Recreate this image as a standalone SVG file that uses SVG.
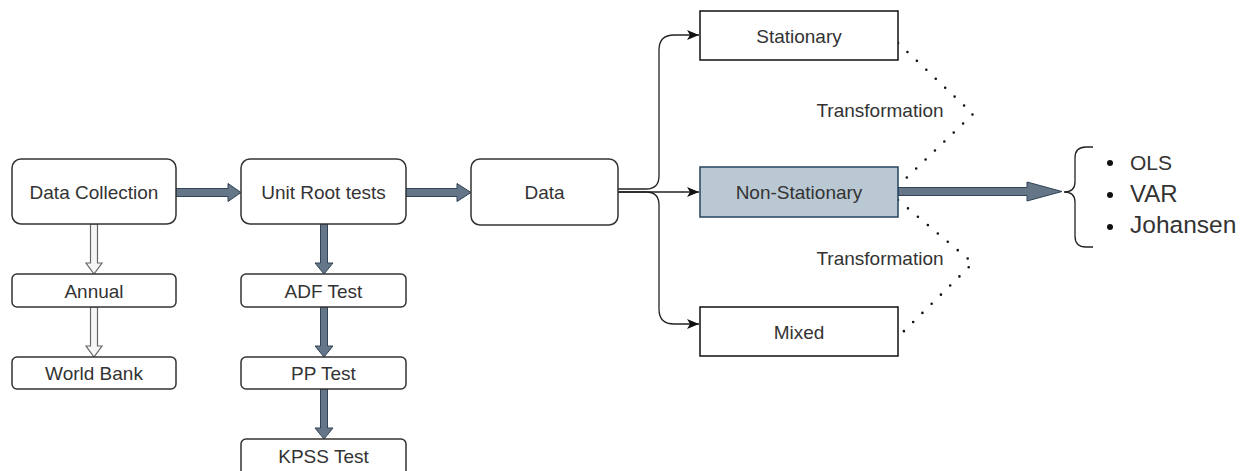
<svg xmlns="http://www.w3.org/2000/svg" width="1254" height="471" viewBox="0 0 1254 471">
<style>
text{font-family:"Liberation Sans",Arial,sans-serif;fill:#333333;font-size:19px;text-anchor:middle}
.rbox{fill:#ffffff;stroke:#333333;stroke-width:1.5}
.sbox{fill:#ffffff;stroke:#111111;stroke-width:1.5}
.flex{fill:#647687;stroke:#314354;stroke-width:1}
.hollow{fill:#f5f5f5;stroke:#666666;stroke-width:1.2}
.thin{fill:none;stroke:#222222;stroke-width:1.3}
.dot{fill:none;stroke:#111111;stroke-width:2.6;stroke-linecap:round;stroke-dasharray:0 13}
.bl{text-anchor:start}
</style>
<defs>
<marker id="ah" markerUnits="userSpaceOnUse" markerWidth="13" markerHeight="10" refX="12" refY="5" orient="auto" viewBox="0 0 13 10">
<path d="M0,0 L12,5 L0,10 L3,5 Z" fill="#111111"/>
</marker>
</defs>
<g id="connectors">
<polygon class="flex" points="176,188.5 228,188.5 228,183.5 241,192.5 228,201.5 228,196.5 176,196.5"/>
<polygon class="flex" points="406,188.5 457,188.5 457,183.5 471,192.5 457,201.5 457,196.5 406,196.5"/>
<polygon class="flex" points="898,187.5 1027,187.5 1027,182 1062,191.5 1027,201 1027,195.5 898,195.5"/>
<polygon class="flex" points="320.5,224 327.5,224 327.5,263 333,263 324,274 315,263 320.5,263"/>
<polygon class="flex" points="320.5,307 327.5,307 327.5,346 333,346 324,357 315,346 320.5,346"/>
<polygon class="flex" points="320.5,389 327.5,389 327.5,428 333,428 324,439 315,428 320.5,428"/>
<polygon class="hollow" points="90.5,224 97.5,224 97.5,263 102,263 94,274 86,263 90.5,263"/>
<polygon class="hollow" points="90.5,307 97.5,307 97.5,346 102,346 94,357 86,346 90.5,346"/>
<path class="thin" d="M618,189 H646 Q659,189 659,176 V50 Q659,35 674,35 H699" marker-end="url(#ah)"/>
<path class="thin" d="M618,192 H699" marker-end="url(#ah)"/>
<path class="thin" d="M618,192 H646 Q659,192 659,205 V309 Q659,324 674,324 H699" marker-end="url(#ah)"/>
<path class="dot" d="M898,43 L973,114 L898,186"/>
<path class="dot" d="M898,200 L973,263 L898,337"/>
<text x="880" y="117">Transformation</text>
<text x="880" y="265">Transformation</text>
</g>
<g id="data-collection"><rect class="rbox" x="12" y="159" width="164" height="65" rx="9"/><text x="94" y="199">Data Collection</text></g>
<g id="unit-root"><rect class="rbox" x="241" y="159" width="165" height="65" rx="9"/><text x="323.5" y="199">Unit Root tests</text></g>
<g id="annual"><rect class="rbox" x="12" y="274" width="164" height="33" rx="5"/><text x="94" y="297.5">Annual</text></g>
<g id="world-bank"><rect class="rbox" x="12" y="357" width="164" height="32" rx="5"/><text x="94" y="380">World Bank</text></g>
<g id="adf"><rect class="rbox" x="241" y="274" width="165" height="33" rx="5"/><text x="323.5" y="297.5">ADF Test</text></g>
<g id="pp"><rect class="rbox" x="241" y="357" width="165" height="32" rx="5"/><text x="323.5" y="380">PP Test</text></g>
<g id="kpss"><rect class="rbox" x="241" y="439" width="165" height="36" rx="5"/><text x="323.5" y="462.5">KPSS Test</text></g>
<g id="data"><rect class="rbox" x="471" y="159" width="147" height="66" rx="9"/><text x="544.5" y="199">Data</text></g>
<g id="stationary"><rect class="sbox" x="700" y="11" width="198" height="49"/><text x="799" y="42.5">Stationary</text></g>
<g id="non-stationary"><rect x="700" y="167" width="198" height="50" fill="#bac8d3" stroke="#23445d" stroke-width="1.5"/><text x="799" y="199">Non-Stationary</text></g>
<g id="mixed"><rect class="sbox" x="700" y="307" width="198" height="49"/><text x="799" y="338.5">Mixed</text></g>
<g id="methods">
<path class="thin" stroke="#333333" d="M1093,147 H1086 Q1075,147 1075,158 V182 Q1075,192 1064,192 Q1075,192 1075,202 V236 Q1075,247 1086,247 H1093"/>
<circle cx="1110" cy="163" r="3" fill="#111111"/>
<circle cx="1110" cy="195" r="3" fill="#111111"/>
<circle cx="1110" cy="227" r="3" fill="#111111"/>
<text class="bl" x="1130" y="170" style="font-size:21px">OLS</text>
<text class="bl" x="1130" y="202" style="font-size:24px">VAR</text>
<text class="bl" x="1130" y="233" style="font-size:24.5px">Johansen</text>
</g>
</svg>
